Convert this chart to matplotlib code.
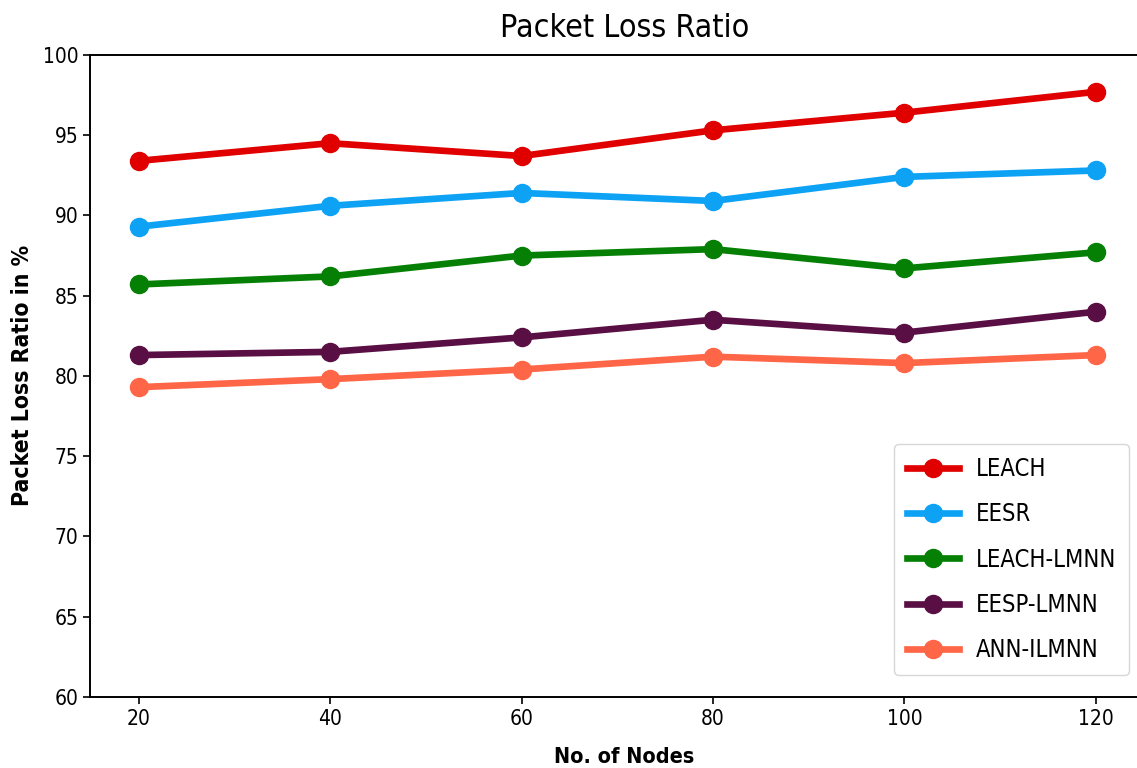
import matplotlib
matplotlib.use("Agg")
import matplotlib.pyplot as plt

nodes = [20, 40, 60, 80, 100, 120]
leach = [93.4, 94.5, 93.7, 95.3, 96.4, 97.7]
eesr = [89.3, 90.6, 91.4, 90.9, 92.4, 92.8]
leach_lmnn = [85.7, 86.2, 87.5, 87.9, 86.7, 87.7]
eesp_lmnn = [81.3, 81.5, 82.4, 83.5, 82.7, 84.0]
ann_ilmnn = [79.3, 79.8, 80.4, 81.2, 80.8, 81.3]
series_names = ["LEACH", "EESR", "LEACH-LMNN", "EESP-LMNN", "ANN-ILMNN"]
colors = ["#e00000", "#0ea2f5", "#058005", "#5a0f44", "#ff6647"]

plt.rcParams["font.family"] = ["DejaVu Sans"]
plt.rcParams["font.stretch"] = "condensed"

fig = plt.figure(figsize=(11.37, 7.68), dpi=100)
ax = fig.add_axes([0.0792, 0.0925, 0.94, 0.836])
for name, vals, c in zip(series_names, [leach, eesr, leach_lmnn, eesp_lmnn, ann_ilmnn], colors):
    ax.plot(nodes, vals, color=c, lw=4.8, marker="o", ms=13, label=name)

ax.set_xlim(14.9, 126.6)
ax.set_ylim(60, 100)
ax.set_xticks(nodes)
ax.set_yticks(range(60, 101, 5))
ax.tick_params(labelsize=15, length=5, width=1.2)
for s in ax.spines.values():
    s.set_linewidth(1.4)
ax.set_title("Packet Loss Ratio", fontsize=23, pad=13)
ax.set_xlabel("No. of Nodes", fontsize=15.5, fontweight="bold", labelpad=13)
ax.set_ylabel("Packet Loss Ratio in %", fontsize=16.5, fontweight="bold", labelpad=6)
leg = ax.legend(loc="lower right", fontsize=17, handlelength=2.2, borderpad=0.55, labelspacing=0.9,
                handletextpad=0.7, bbox_to_anchor=(0.972, 0.034), borderaxespad=0)
fig.savefig("out.png", dpi=100)
